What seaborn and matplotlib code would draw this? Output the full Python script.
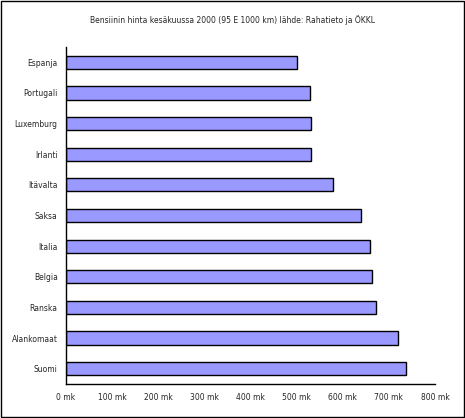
import matplotlib
matplotlib.use("Agg")
import matplotlib.pyplot as plt
import seaborn as sns
import pandas as pd
from matplotlib.ticker import FuncFormatter

countries = ["Espanja","Portugali","Luxemburg","Irlanti","Itävalta","Saksa","Italia","Belgia","Ranska","Alankomaat","Suomi"]
prices = [500,528,531,531,578,639,659,663,672,719,737]
ticks = [0,100,200,300,400,500,600,700,800]

sns.set_style("white")
plt.rcParams['font.family'] = ['DejaVu Sans']
df = pd.DataFrame({"maa": countries, "hinta": prices})
fig = plt.figure(figsize=(4.65,4.18), dpi=100)
ax = fig.add_axes([66/465, 1-384/418, (435-66)/465, (384-47)/418])
sns.barplot(data=df, x="hinta", y="maa", orient="h", color="#9999ff", saturation=1,
            edgecolor="black", linewidth=1, width=0.43, ax=ax)
ax.set_xlim(0,800)
ax.set_xticks(ticks)
ax.xaxis.set_major_formatter(FuncFormatter(lambda v,p: f"{int(v)} mk"))
ax.tick_params(axis='both', labelsize=5.5, length=3, direction='out', color='black')
ax.tick_params(axis='y', length=0, pad=6)
for s in ["top","right"]:
    ax.spines[s].set_visible(False)
for s in ["left","bottom"]:
    ax.spines[s].set_color("black"); ax.spines[s].set_linewidth(1)
ax.set_xlabel(""); ax.set_ylabel("")
fig.text(0.5, 1-20/418, "Bensiinin hinta kesäkuussa 2000 (95 E 1000 km) lähde: Rahatieto ja ÖKKL",
         ha="center", va="center", fontsize=5.5)
fig.patches.append(plt.Rectangle((0.002,0.002),0.996,0.996, transform=fig.transFigure,
                   fill=False, edgecolor="black", linewidth=1))
fig.savefig("out.png", dpi=100)
